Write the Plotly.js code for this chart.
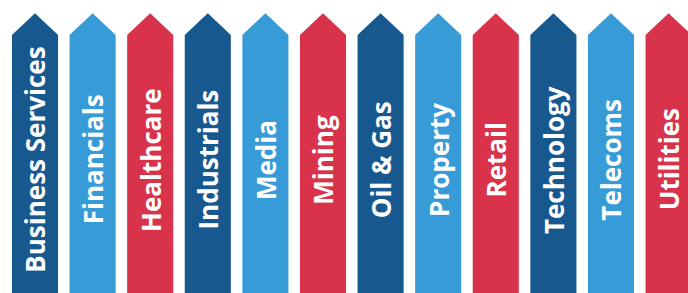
<!DOCTYPE html>
<html>
<head>
<meta charset="utf-8">
<script src="https://cdn.plot.ly/plotly-3.0.1.min.js"></script>
<style>html,body{margin:0;padding:0;background:#fff;}#chart{width:688px;height:293px;}</style>
</head>
<body>
<div id="chart"></div>
<script>
const categories = ["Business Services","Financials","Healthcare","Industrials","Media","Mining","Oil & Gas","Property","Retail","Technology","Telecoms","Utilities"];
const values = [100,100,100,100,100,100,100,100,100,100,100,100];
const colorGroups = ["dark","light","red","dark","light","red","dark","light","red","dark","light","red"];

const palette = {dark:"#17588F", light:"#379BD7", red:"#D8334A"};
const halfW = 0.4;
const tipH = 8.5;
const yMax = 113.6;

const traces = categories.map((c, i) => {
  const v = values[i];
  return {
    type: "scatter", mode: "lines", fill: "toself",
    x: [i - halfW, i - halfW, i, i + halfW, i + halfW, i - halfW],
    y: [0, v, v + tipH, v, 0, 0],
    fillcolor: palette[colorGroups[i]],
    line: {width: 0, color: palette[colorGroups[i]]},
    hoverinfo: "skip", showlegend: false
  };
});

const annotations = categories.map((c, i) => ({
  x: i, xref: "x", y: 0.455, yref: "paper",
  text: c, showarrow: false, textangle: -90,
  font: {family: "Open Sans", size: 26, color: "#ffffff", weight: "bold"},
  xanchor: "center", yanchor: "middle"
}));

const layout = {
  width: 688, height: 293,
  margin: {l: 0, r: 0, t: 0, b: 0},
  paper_bgcolor: "#ffffff", plot_bgcolor: "#ffffff",
  xaxis: {range: [-0.6076, 11.337], visible: false, fixedrange: true},
  yaxis: {range: [0, yMax], visible: false, fixedrange: true},
  annotations: annotations,
  showlegend: false
};

Plotly.newPlot("chart", traces, layout, {staticPlot: true, displayModeBar: false});
</script>
</body>
</html>
